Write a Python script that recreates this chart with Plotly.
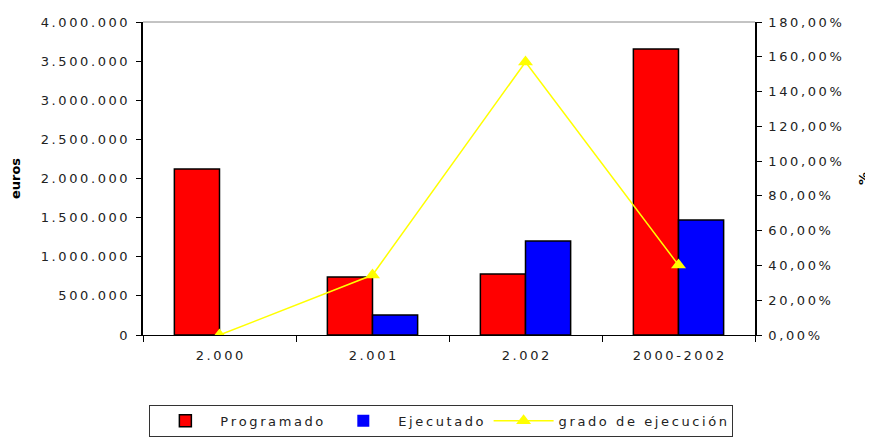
import plotly.graph_objects as go

categories = ["2.000", "2.001", "2.002", "2000-2002"]
programado = [2121000, 741000, 780000, 3655000]
ejecutado = [0, 256000, 1201000, 1470000]
grado = [0.0, 34.5, 157.0, 40.2]

left_vals = [0, 500000, 1000000, 1500000, 2000000, 2500000, 3000000, 3500000, 4000000]
left_text = ["0", "500.000", "1.000.000", "1.500.000", "2.000.000", "2.500.000",
             "3.000.000", "3.500.000", "4.000.000"]
right_vals = [0, 20, 40, 60, 80, 100, 120, 140, 160, 180]
right_text = ["0,00%", "20,00%", "40,00%", "60,00%", "80,00%", "100,00%",
              "120,00%", "140,00%", "160,00%", "180,00%"]
series_names = ["Programado", "Ejecutado", "grado de ejecución"]

TS = "\u2009"
def spaced(s):
    return TS.join(list(s))

FONT = "DejaVu Sans"
W, H = 865, 430
fig = go.Figure()
fig.add_trace(go.Bar(x=categories, y=programado, name=spaced(series_names[0]),
                     marker=dict(color="#FF0000", line=dict(color="black", width=1.5))))
fig.add_trace(go.Bar(x=categories, y=ejecutado, name=spaced(series_names[1]),
                     marker=dict(color="#0000FF", line=dict(color="black", width=[0, 1.5, 1.5, 1.5]))))
fig.add_trace(go.Scatter(x=categories, y=grado, name=spaced(series_names[2]), yaxis="y2",
                         mode="lines+markers",
                         line=dict(color="#FFFF00", width=1.5),
                         marker=dict(symbol="triangle-up", size=13, color="#FFFF00")))

fig.update_layout(
    width=W, height=H,
    margin=dict(l=135, r=118, t=14, b=103),
    paper_bgcolor="white", plot_bgcolor="white",
    barmode="group", bargap=0.41, bargroupgap=0,
    font=dict(family=FONT, size=12, color="#222"),
    showlegend=True,
    legend=dict(orientation="h", xref="container", yref="container",
                x=0.501, xanchor="center", y=0.04, yanchor="middle",
                bordercolor="#333", borderwidth=1, bgcolor="white",
                font=dict(family=FONT, size=13, color="#222"),
                itemwidth=60, traceorder="normal"),
    xaxis=dict(showline=True, linecolor="black", linewidth=1, automargin=False,
               ticks="outside", ticklen=6, tickcolor="black", tickson="boundaries",
               ticklabelstandoff=8,
               tickvals=categories, ticktext=[spaced(c) for c in categories],
               tickfont=dict(size=13), showgrid=False),
    yaxis=dict(range=[0, 4000000], tickvals=left_vals, ticktext=[spaced(t) for t in left_text],
               showline=True, linecolor="black", linewidth=1.5, automargin=False,
               ticks="outside", ticklen=5, tickcolor="black", ticklabelstandoff=6,
               showgrid=False, zeroline=False, tickfont=dict(size=13),
               title=dict(text="<b>euros</b>", font=dict(size=13, color="black"), standoff=20)),
    yaxis2=dict(range=[0, 180], overlaying="y", side="right", automargin=False,
                tickvals=right_vals, ticktext=[spaced(t) for t in right_text],
                showline=True, linecolor="black", linewidth=1.5,
                ticks="outside", ticklen=5, tickcolor="black", ticklabelstandoff=4,
                showgrid=False, zeroline=False, tickfont=dict(size=13),
                title=dict(text="<b>%</b>", font=dict(size=13, color="black"), standoff=18)),
    shapes=[dict(type="line", xref="paper", yref="paper", x0=0, x1=1, y0=1, y1=1,
                 line=dict(color="#888", width=1))],
)

fig.write_html("out.html")
